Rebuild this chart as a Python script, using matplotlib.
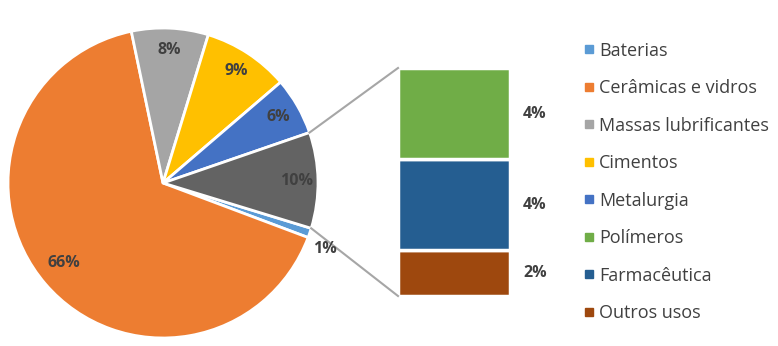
import numpy as np
import matplotlib.pyplot as plt
from matplotlib.lines import Line2D

plt.rcParams['font.family'] = ['Open Sans', 'DejaVu Sans']

# pie part (clockwise, starting with Baterias)
pie_labels = ["Baterias", "Cerâmicas e vidros", "Massas lubrificantes",
              "Cimentos", "Metalurgia", "Outros"]
pie_values = [1, 66, 8, 9, 6, 10]
pie_colors = ["#5B9BD5", "#ED7D31", "#A5A5A5", "#FFC000", "#4472C4", "#636363"]

# bar part (breakdown of "Outros"), bottom to top
bar_labels = ["Outros usos", "Farmacêutica", "Polímeros"]
bar_values = [2, 4, 4]
bar_colors = ["#9E480E", "#255E91", "#70AD47"]

legend_labels = ["Baterias", "Cerâmicas e vidros", "Massas lubrificantes",
                 "Cimentos", "Metalurgia", "Polímeros", "Farmacêutica", "Outros usos"]
legend_colors = ["#5B9BD5", "#ED7D31", "#A5A5A5", "#FFC000", "#4472C4",
                 "#70AD47", "#255E91", "#9E480E"]

W, H = 778, 346
fig = plt.figure(figsize=(W / 100, H / 100), dpi=100)
ax = fig.add_axes([0, 0, 1, 1])

cx, cy, R = 163, 163, 155
txt = "#404040"

wedges, texts, autotexts = ax.pie(
    pie_values, colors=pie_colors, center=(cx, cy), radius=R,
    startangle=-17, counterclock=False, autopct="%d%%", pctdistance=0.86,
    wedgeprops=dict(edgecolor="white", linewidth=2),
    textprops=dict(color=txt, fontsize=11.5, fontweight="bold"))

# Excel "best fit" label placement for the two awkward slices
def place(t, ang, frac):
    a = np.deg2rad(ang)
    t.set_position((cx + frac * R * np.cos(a), cy + frac * R * np.sin(a)))

place(autotexts[1], 219, 0.82)
place(autotexts[0], -22, 1.13)

# stacked bar
bx, bw = 454, 112
scale = 22.8
bottom = 50
for v, c in zip(bar_values, bar_colors):
    ax.bar(bx, v * scale, width=bw, bottom=bottom, color=c,
           edgecolor="white", linewidth=2.5)
    ax.text(bx + bw / 2 + 25, bottom + v * scale / 2, f"{v}%", color=txt,
            fontsize=11.5, fontweight="bold", ha="center", va="center")
    bottom += v * scale

# connector lines
w = wedges[-1]
top_a = np.deg2rad(max(w.theta1, w.theta2))
bot_a = np.deg2rad(min(w.theta1, w.theta2))
ax.plot([cx + R * np.cos(top_a), bx - bw / 2], [cy + R * np.sin(top_a), bottom],
        color="#A6A6A6", lw=1.5)
ax.plot([cx + R * np.cos(bot_a), bx - bw / 2], [cy + R * np.sin(bot_a), 50],
        color="#A6A6A6", lw=1.5)

handles = [Line2D([], [], marker="s", ls="", color=c, markersize=6)
           for c in legend_colors]
ax.legend(handles, legend_labels, loc="upper left", bbox_to_anchor=(575 / W, 1 - 32.5 / H),
          frameon=False, fontsize=13, labelcolor="#404040", handlelength=0.6,
          handletextpad=0.25, labelspacing=1.08, borderpad=0)

ax.set_xlim(0, W)
ax.set_ylim(0, H)
ax.set_aspect("equal")
ax.axis("off")
fig.savefig("out.png", dpi=100)
